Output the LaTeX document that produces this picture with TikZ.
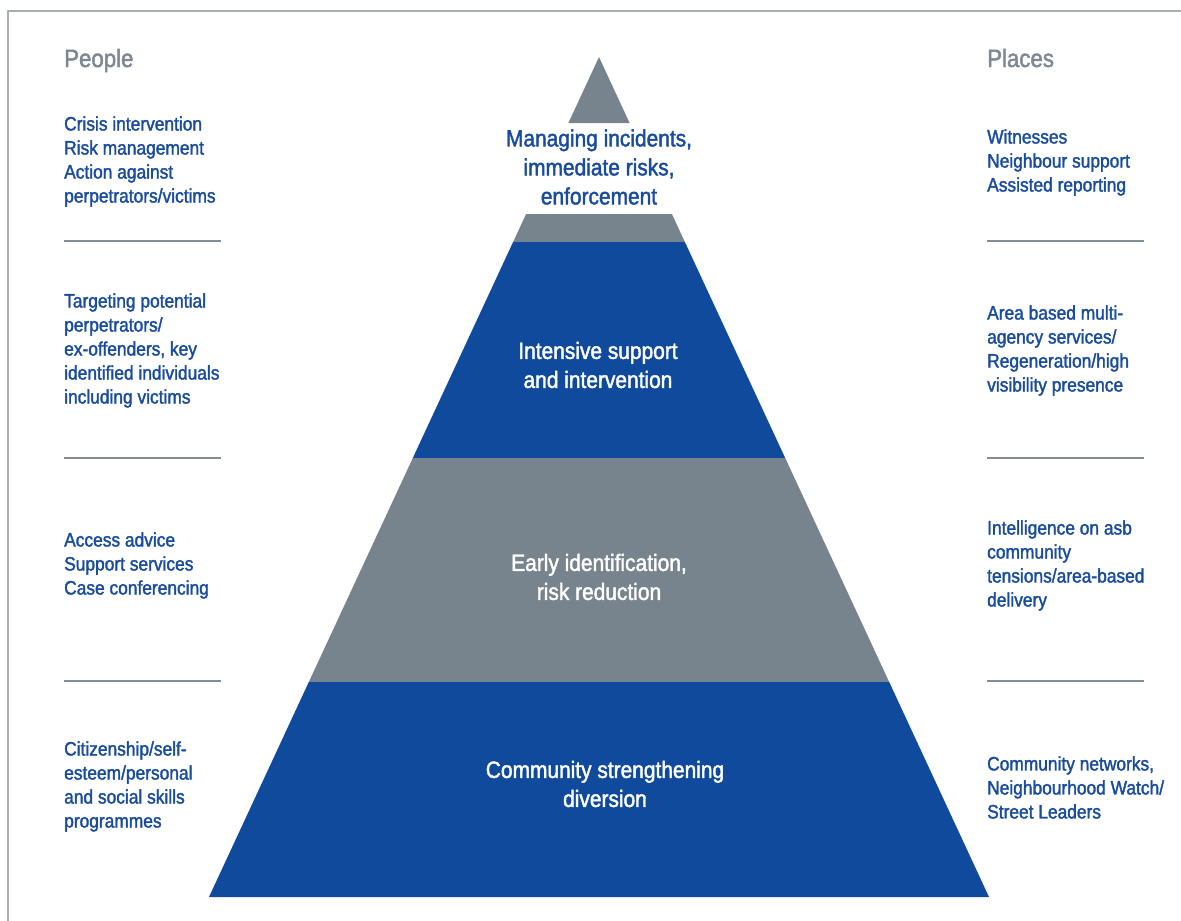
\documentclass[tikz,border=0pt]{standalone}
\usepackage{fontspec}
\setmainfont[FakeStretch=0.9]{Liberation Sans}
\newfontfamily\medfont[FakeStretch=0.89, FakeBold=1.8]{Liberation Sans}
\definecolor{pyrblue}{HTML}{0F4A9C}
\definecolor{pyrgray}{HTML}{77838D}
\definecolor{txtblue}{HTML}{1A4C9E}
\definecolor{headgray}{HTML}{7D8892}
\definecolor{rulegray}{HTML}{808B94}
\definecolor{framegray}{HTML}{A9AEB3}
\begin{document}
\begin{tikzpicture}[x=1pt, y=-1pt, line join=round,
	heading/.style={anchor=base west, inner sep=0pt, text=headgray, font=\medfont\fontsize{25}{30}\selectfont},
	sidetext/.style={anchor=west, align=left, inner sep=0pt, text=txtblue, font=\medfont\fontsize{19.5}{24}\selectfont},
	layertext/.style={align=center, inner sep=0pt, font=\medfont\fontsize{23.5}{29}\selectfont},
	sep/.style={draw=rulegray, line width=1.5pt}]
		\useasboundingbox (0,0) rectangle (1181,921);
		\draw[framegray, line width=1.2pt] (8,921)--(8,11)--(1181,11);
		\fill[pyrgray] (599,57)--(629.6,123)--(568.4,123)--cycle;
		\fill[pyrgray] (526.1,214)--(671.9,214)--(684.9,242)--(513.1,242)--cycle;
		\fill[pyrblue] (513.1,242)--(684.9,242)--(785.2,458)--(412.8,458)--cycle;
		\fill[pyrgray] (412.8,458)--(785.2,458)--(889.2,682)--(308.8,682)--cycle;
		\fill[pyrblue] (308.8,682)--(889.2,682)--(989,897)--(209,897)--cycle;
		\node[layertext, text=txtblue] (top) at (599,167) {Managing incidents,\\immediate risks,\\enforcement};
		\node[layertext, text=white] (intensive) at (598,365) {Intensive support\\and intervention};
		\node[layertext, text=white] (early) at (599,577) {Early identification,\\risk reduction};
		\node[layertext, text=white] (community) at (605,784) {Community strengthening\\diversion};
		\node[heading] (people) at (64,67) {People};
		\node[heading] (places) at (987,67) {Places};
		\node[sidetext] (peopleA) at (64,161.5) {Crisis intervention\\Risk management\\Action against\\perpetrators/victims};
		\node[sidetext] (peopleB) at (64,350.5) {Targeting potential\\perpetrators/\\ex-offenders, key\\identified individuals\\including victims};
		\node[sidetext] (peopleC) at (64,565.5) {Access advice\\Support services\\Case conferencing};
		\node[sidetext] (peopleD) at (64,786.5) {Citizenship/self-\\esteem/personal\\and social skills\\programmes};
		\node[sidetext] (placesA) at (987,162.5) {Witnesses\\Neighbour support\\Assisted reporting};
		\node[sidetext] (placesB) at (987,350.5) {Area based multi-\\agency services/\\Regeneration/high\\visibility presence};
		\node[sidetext] (placesC) at (987,565.5) {Intelligence on asb\\community\\tensions/area-based\\delivery};
		\node[sidetext] (placesD) at (987,787.5) {Community networks,\\Neighbourhood Watch/\\Street Leaders};
		\draw[sep] (64,241)--(221,241);
		\draw[sep] (64,458)--(221,458);
		\draw[sep] (64,681)--(221,681);
		\draw[sep] (987,241)--(1144,241);
		\draw[sep] (987,458)--(1144,458);
		\draw[sep] (987,681)--(1144,681);
	\end{tikzpicture}
\end{document}
